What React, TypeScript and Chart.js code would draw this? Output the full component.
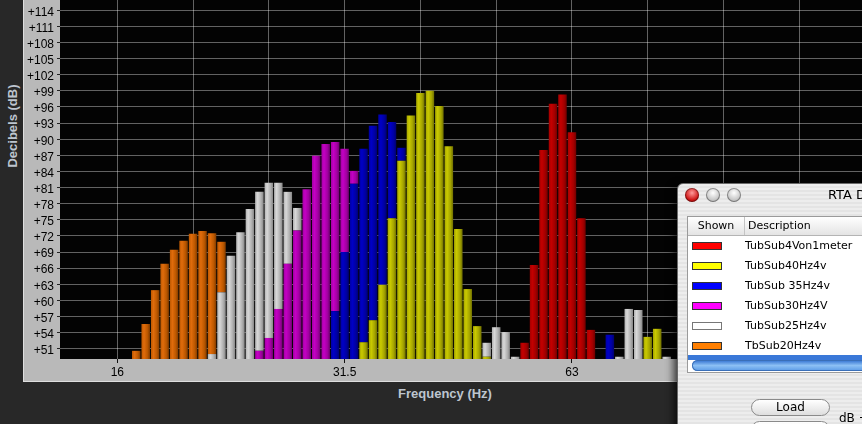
import React, { useEffect, useRef } from "react";
import { Chart, registerables } from "chart.js";

Chart.register(...registerables);

// Series names (legend of the RTA dialog)
const seriesNames = [
  "TubSub4Von1meter",
  "TubSub40Hz4v",
  "TubSub 35Hz4v",
  "TubSub30Hz4V",
  "TubSub25Hz4v",
  "TbSub20Hz4v",
];

// x positions: 1/24-octave band index, band 0 = 16 Hz
const redBands = [43, 44, 45, 46, 47, 48, 49, 50];
const redDb = [52.1, 66.6, 88.0, 96.6, 98.3, 91.3, 75.3, 54.5];

const yellowBands = [26, 27, 28, 29, 30, 31, 32, 33, 34, 35, 36, 37, 38, 39, 56, 57];
const yellowDb = [52.2, 56.3, 62.9, 75.3, 86.0, 94.4, 98.6, 99.0, 96.2, 88.7, 73.3, 62.1, 55.2, 49.5, 53.2, 54.7];

const blueBands = [23, 24, 25, 26, 27, 28, 29, 30, 52];
const blueDb = [58.0, 69.0, 81.7, 88.2, 92.5, 94.6, 93.2, 88.4, 53.6];

const magentaBands = [15, 16, 17, 18, 19, 20, 21, 22, 23, 24, 25];
const magentaDb = [50.6, 53.0, 58.4, 66.8, 73.0, 80.7, 86.9, 89.1, 89.5, 88.2, 84.1];

const grayBands = [10, 11, 12, 13, 14, 15, 16, 17, 18, 19, 39, 40, 41, 42, 53, 54, 55, 58];
const grayDb = [50.0, 61.5, 68.3, 72.7, 77.0, 80.2, 81.9, 81.9, 80.2, 77.2, 52.1, 55.0, 54.1, 49.5, 49.5, 58.4, 58.2, 49.5];

const orangeBands = [2, 3, 4, 5, 6, 7, 8, 9, 10, 11];
const orangeDb = [50.6, 55.6, 61.9, 66.8, 69.4, 71.1, 72.4, 72.9, 72.5, 70.9];

// Axis ticks
const xTickBands = [0, 8, 16, 24, 32, 40, 48, 56, 64, 72];
const xTickLabels = ["16", "", "", "31.5", "", "", "63", "", "", ""];
const yTickValues = [51, 54, 57, 60, 63, 66, 69, 72, 75, 78, 81, 84, 87, 90, 93, 96, 99, 102, 105, 108, 111, 114, 117];

const X_MIN = -6.05;
const X_MAX = 78.62;
const Y_MIN = 49.08;
const Y_MAX = 119.64;

// styles
const palette = [
  { dark: "#6e0000", light: "#c40000", mid: "#a20000" },
  { dark: "#6e6e00", light: "#caca00", mid: "#a4a400" },
  { dark: "#00006e", light: "#0000c6", mid: "#0000a2" },
  { dark: "#6e006e", light: "#c400c4", mid: "#a200a2" },
  { dark: "#858585", light: "#d8d8d8", mid: "#b0b0b0" },
  { dark: "#7e3a00", light: "#e06c0c", mid: "#bc5800" },
];
const swatchColors = ["#ff0000", "#ffff00", "#0000ff", "#ff00ff", "#ffffff", "#ff7f00"];

const allSeries = [
  { bands: redBands, db: redDb },
  { bands: yellowBands, db: yellowDb },
  { bands: blueBands, db: blueDb },
  { bands: magentaBands, db: magentaDb },
  { bands: grayBands, db: grayDb },
  { bands: orangeBands, db: orangeDb },
];

function valueAt(s: { bands: number[]; db: number[] }, k: number): number | null {
  const i = s.bands.indexOf(k);
  return i < 0 ? null : s.db[i];
}

function makeFill(si: number) {
  return (ctx: any) => {
    const c = palette[si];
    if (ctx.type !== "data" || !ctx.parsed) return c.mid;
    const chart = ctx.chart;
    const xs = chart.scales && chart.scales.x;
    if (!xs || !chart.chartArea) return c.mid;
    const cx = xs.getPixelForValue(ctx.parsed.x);
    const hw = 4.3;
    const g = chart.ctx.createLinearGradient(cx - hw, 0, cx + hw, 0);
    g.addColorStop(0, c.mid);
    g.addColorStop(0.3, c.light);
    g.addColorStop(0.7, c.mid);
    g.addColorStop(1, c.dark);
    return g;
  };
}

const bgPlugin = {
  id: "panelBg",
  beforeDraw(chart: any) {
    const { ctx, chartArea: a } = chart;
    ctx.save();
    ctx.fillStyle = "#b9b9b9";
    ctx.fillRect(0, 0, chart.width, chart.height);
    ctx.fillStyle = "#030303";
    ctx.fillRect(a.left, a.top, a.right - a.left, a.bottom - a.top);
    ctx.restore();
  },
};

export default function App() {
  const canvasRef = useRef<HTMLCanvasElement | null>(null);

  useEffect(() => {
    if (!canvasRef.current) return;
    const datasets = allSeries.map((s, si) => ({
      label: seriesNames[si],
      data: s.bands.map((k, j) => {
        const v = s.db[j];
        let lo = Y_MIN;
        allSeries.forEach((o, oi) => {
          if (oi === si) return;
          const ov = valueAt(o, k);
          if (ov !== null && ov < v && ov > lo) lo = ov;
        });
        return { x: k, y: [lo, v] };
      }),
      backgroundColor: makeFill(si),
      borderWidth: 0,
      grouped: false,
      categoryPercentage: 1,
      barPercentage: 0.9,
      clip: 0,
    }));

    const chart = new Chart(canvasRef.current, {
      type: "bar",
      data: { datasets: datasets as any },
      plugins: [bgPlugin],
      options: {
        animation: false,
        responsive: false,
        maintainAspectRatio: false,
        layout: { padding: 0 },
        plugins: { legend: { display: false }, tooltip: { enabled: false }, title: { display: false } },
        scales: {
          x: {
            type: "linear",
            min: X_MIN,
            max: X_MAX,
            offset: false,
            z: 1,
            border: { display: false },
            grid: {
              offset: false,
              color: "rgba(255,255,255,0.38)",
              lineWidth: 1,
              drawTicks: true,
              tickLength: 4,
              tickColor: (c: any) => (xTickLabels[c.index] ? "#111" : "rgba(0,0,0,0)"),
            },
            ticks: {
              autoSkip: false,
              maxRotation: 0,
              minRotation: 0,
              padding: 2,
              color: "#000",
              font: { family: "'Liberation Sans', Arial, sans-serif", size: 12 },
              callback: (_v: any, i: number) => xTickLabels[i],
            },
            afterBuildTicks: (scale: any) => {
              scale.ticks = xTickBands.map((v) => ({ value: v }));
            },
            afterFit: (scale: any) => {
              scale.height = 22;
              scale.paddingLeft = 0;
              scale.paddingRight = 0;
            },
          },
          y: {
            type: "linear",
            min: Y_MIN,
            max: Y_MAX,
            z: 1,
            border: { display: false },
            grid: {
              color: "rgba(255,255,255,0.38)",
              lineWidth: 1,
              drawTicks: true,
              tickLength: 3,
              tickColor: "#222",
            },
            ticks: {
              autoSkip: false,
              padding: 3,
              labelOffset: 2,
              color: "#000",
              font: { family: "'Liberation Sans', Arial, sans-serif", size: 12 },
              callback: (v: any) => "+" + v,
            },
            afterBuildTicks: (scale: any) => {
              scale.ticks = yTickValues.map((v) => ({ value: v }));
            },
            afterFit: (scale: any) => {
              scale.width = 36;
              scale.paddingTop = 0;
              scale.paddingBottom = 0;
            },
          },
        },
      } as any,
    });
    return () => chart.destroy();
  }, []);

  const light = (left: number, bg: string) => ({
    position: "absolute" as const,
    left,
    top: 4,
    width: 14,
    height: 14,
    borderRadius: "50%",
    background: bg,
    boxShadow: "inset 0 0 0 1px rgba(0,0,0,0.35)",
  });

  const buttonStyle = (top: number) => ({
    position: "absolute" as const,
    left: 73,
    top,
    width: 79,
    height: 17,
    boxSizing: "border-box" as const,
    borderRadius: 9,
    border: "1px solid #8a8a8a",
    background: "linear-gradient(#ffffff, #dedede)",
    textAlign: "center" as const,
    fontSize: 12,
    lineHeight: "15px",
  });

  return (
    <div
      style={{
        position: "fixed",
        left: 0,
        top: 0,
        width: 862,
        height: 424,
        overflow: "hidden",
        background: "#282828",
        fontFamily: "'Liberation Sans', Arial, sans-serif",
      }}
    >
      <div
        style={{
          position: "absolute",
          left: 23,
          top: -20,
          width: 839,
          height: 402,
          boxSizing: "border-box",
          borderLeft: "1px solid #dedede",
          borderBottom: "1px solid #dedede",
        }}
      >
        <canvas ref={canvasRef} width={838} height={401} style={{ display: "block", width: 838, height: 401 }} />
      </div>

      <div
        style={{
          position: "absolute",
          left: 12,
          top: 126,
          transform: "translate(-50%, -50%) rotate(-90deg)",
          color: "#bdc5cf",
          font: "bold 13px 'Liberation Sans', Arial, sans-serif",
          whiteSpace: "nowrap",
        }}
      >
        Decibels (dB)
      </div>
      <div
        style={{
          position: "absolute",
          left: 445,
          top: 393,
          transform: "translate(-50%, -50%)",
          color: "#bdc5cf",
          font: "bold 13px 'Liberation Sans', Arial, sans-serif",
          whiteSpace: "nowrap",
        }}
      >
        Frequency (Hz)
      </div>

      {/* RTA dialog window */}
      <div
        style={{
          position: "absolute",
          left: 677,
          top: 183,
          width: 220,
          height: 260,
          borderTopLeftRadius: 6,
          border: "1px solid #6a6a6a",
          boxShadow: "-3px 3px 8px rgba(0,0,0,0.75)",
          background: "repeating-linear-gradient(#ededed 0px, #ededed 2px, #e4e4e4 2px, #e4e4e4 4px)",
          overflow: "hidden",
          fontFamily: "'DejaVu Sans', sans-serif",
          color: "#000",
        }}
      >
        <div style={light(7, "radial-gradient(circle at 50% 35%, #ff9a9a, #d01818 60%, #8a0000)")} />
        <div style={light(28, "radial-gradient(circle at 50% 35%, #ffffff, #c8c8c8 60%, #9a9a9a)")} />
        <div style={light(49, "radial-gradient(circle at 50% 35%, #ffffff, #c8c8c8 60%, #9a9a9a)")} />
        <div style={{ position: "absolute", left: 150, top: 3, fontSize: 13, lineHeight: "16px", whiteSpace: "nowrap" }}>RTA D</div>

        <div
          style={{
            position: "absolute",
            left: 9,
            top: 32,
            width: 220,
            height: 157,
            background: "#ffffff",
            border: "1px solid #9a9a9a",
            boxSizing: "border-box",
          }}
        >
          <div
            style={{
              position: "absolute",
              left: 0,
              top: 0,
              width: "100%",
              height: 18,
              background: "linear-gradient(#ffffff, #e4e4e4)",
              borderBottom: "1px solid #b4b4b4",
              fontSize: 11,
            }}
          >
            <div
              style={{
                position: "absolute",
                left: 0,
                top: 0,
                width: 56,
                height: 18,
                borderRight: "1px solid #c4c4c4",
                textAlign: "center",
                lineHeight: "18px",
              }}
            >
              Shown
            </div>
            <div style={{ position: "absolute", left: 60, top: 0, lineHeight: "18px" }}>Description</div>
          </div>
          {seriesNames.map((n, i) => (
            <div key={n} style={{ position: "absolute", left: 0, top: 19 + i * 20, height: 20, width: "100%" }}>
              <div
                style={{
                  position: "absolute",
                  left: 4,
                  top: 6,
                  width: 30,
                  height: 8,
                  boxSizing: "border-box",
                  background: swatchColors[i],
                  border: i === 4 ? "1px solid #777" : "1px solid #333",
                }}
              />
              <div style={{ position: "absolute", left: 57, top: 0, lineHeight: "20px", fontSize: 11, whiteSpace: "nowrap" }}>{n}</div>
            </div>
          ))}
          <div style={{ position: "absolute", left: 0, top: 138, width: "100%", height: 5, background: "#3a78d8" }} />
          <div
            style={{
              position: "absolute",
              left: 4,
              top: 143,
              width: 220,
              height: 11,
              borderRadius: 6,
              background: "linear-gradient(#2f6fd0, #8cc0f4 50%, #5a9ae6)",
              boxShadow: "inset 0 0 0 1px #3a6fb8",
            }}
          />
        </div>

        <div style={buttonStyle(215)}>Load</div>
        <div style={buttonStyle(237)} />
        <div style={{ position: "absolute", left: 161, top: 227, fontSize: 12, whiteSpace: "nowrap" }}>dB +</div>
      </div>
    </div>
  );
}
